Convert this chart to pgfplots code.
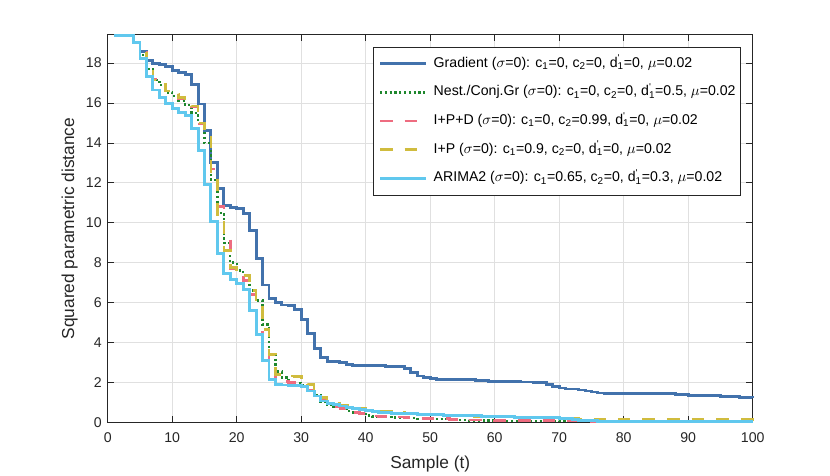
\documentclass[border=0pt]{standalone}
\usepackage{fontspec}
\setmainfont{Liberation Sans}
\usepackage{pgfplots}
\pgfplotsset{compat=1.18}
\definecolor{cgrad}{RGB}{66,114,172}
\definecolor{cnest}{RGB}{30,135,45}
\definecolor{cipd}{RGB}{238,108,128}
\definecolor{cip}{RGB}{208,188,62}
\definecolor{carima}{RGB}{96,200,238}
\definecolor{cax}{RGB}{38,38,38}
\newcommand{\sbs}[1]{\textsubscript{#1}}
\newcommand{\dprime}{d\rlap{\textsuperscript{\textquotesingle}}\textsubscript{1}}
\begin{document}
\begin{tikzpicture}[x=1pt,y=1pt]
\useasboundingbox (0,0) rectangle (622.5,356.25);
\begin{axis}[
  at={(80.8pt,39.5pt)}, anchor=south west,
  scale only axis, width=483.75pt, height=290.7pt,
  xmin=0, xmax=100, ymin=0, ymax=19.42,
  xtick={0,10,...,100}, ytick={0,2,...,18},
  grid=major, major grid style={draw=black!12, line width=0.5pt},
  axis line style={draw=cax, line width=0.6pt},
  tick style={draw=cax, line width=0.6pt},
  major tick length=5pt,
  tick align=inside,
  ticklabel style={font=\fontsize{10.6}{12}\selectfont, text=cax},
  xticklabel style={yshift=-4pt},
  yticklabel style={xshift=-1pt},
  /pgf/number format/assume math mode=true,
  xlabel={Sample (t)}, ylabel={Squared parametric distance},
  label style={font=\fontsize{13}{15}\selectfont, text=cax},
  xlabel style={at={(axis description cs:0.5,-0.118)}, anchor=base},
  ylabel style={at={(axis description cs:-0.059,0.5)}, anchor=center},
  legend style={at={(0.411,0.969)}, anchor=north west, draw=cax, line width=0.6pt, fill=white,
    font=\fontsize{10.6}{12}\selectfont, text=black,
    nodes={inner sep=0pt, text height=8pt, text depth=3pt},
    row sep=10.5pt, column sep=5pt, inner xsep=4pt, inner ysep=7pt},
  legend cell align=left,
  legend image code/.code={\draw[#1] (0cm,0cm) -- (1.2cm,0cm);},
  clip=false,
  const plot,
]
\addplot[cgrad, line width=2.2pt] coordinates {
(1,19.4) (4,19.05) (5,18.6) (6,18.15) (7,18.0) (8,17.93) (9,17.85) (10,17.65) (11,17.55) (12,17.45)
(13,16.92) (14,15.95) (15,14.6) (16,13.03) (17,11.7) (18,10.87) (19,10.75) (20,10.72) (21,10.47) (22,9.6)
(23,8.2) (24,6.88) (25,6.2) (26,6.0) (27,5.88) (28,5.85) (29,5.65) (30,5.15) (31,4.47) (32,3.72)
(33,3.23) (34,3.07) (35,3.03) (36,2.98) (37,2.9) (38,2.87) (39,2.85) (40,2.84) (43,2.82) (45,2.8)
(46,2.7) (47,2.48) (48,2.32) (49,2.23) (50,2.18) (51,2.15) (55,2.13) (57,2.1) (59,2.03) (64,2.02)
(66,2.0) (68,1.9) (69,1.8) (70,1.72) (71,1.67) (73,1.62) (74,1.57) (75,1.52) (76,1.47) (77,1.45)
(84,1.43) (88,1.4) (90,1.36) (93,1.33) (95,1.28) (98,1.25) (100,1.22)};
\addlegendentry{Gradient ($\sigma$=0): c\sbs{1}=0, c\sbs{2}=0, \dprime=0, $\mu$=0.02}
\addplot[cnest, line width=1.8pt, dash pattern=on 1.6pt off 2pt] coordinates {
(1,19.4) (4,19.03) (5,18.4) (6,17.7) (7,17.15) (8,16.9) (9,16.53) (10,16.35) (11,16.1) (12,15.9)
(13,15.5) (14,14.95) (15,14.0) (16,12.15) (17,10.5) (18,9.0) (19,8.0) (20,7.6) (21,7.1) (22,6.6)
(23,6.1) (24,4.9) (25,3.4) (26,2.55) (27,2.25) (28,2.03) (29,1.97) (30,1.88) (31,1.6) (32,1.35)
(33,1.05) (34,0.88) (35,0.78) (36,0.68) (37,0.58) (38,0.5) (39,0.42) (40,0.35) (41,0.3) (42,0.27)
(44,0.24) (46,0.21) (48,0.18) (50,0.16) (53,0.13) (56,0.1) (60,0.08) (65,0.07) (70,0.06) (75,0.04)
(80,0.02) (100,0.02)};
\addlegendentry{Nest./Conj.Gr ($\sigma$=0): c\sbs{1}=0, c\sbs{2}=0, \dprime=0.5, $\mu$=0.02}
\addplot[cipd, line width=2pt, dash pattern=on 9.5pt off 9pt] coordinates {
(1,19.4) (4,19.03) (5,18.53) (6,17.78) (7,17.2) (8,16.95) (9,16.6) (10,16.4) (11,16.2) (12,15.95)
(13,15.8) (14,14.95) (15,14.37) (16,12.7) (17,10.8) (18,9.5) (19,7.7) (20,7.28) (21,7.1) (22,6.4)
(23,4.9) (24,3.6) (25,2.82) (26,2.15) (27,2.05) (28,1.98) (29,1.92) (30,1.85) (31,1.6) (32,1.35)
(33,1.1) (34,0.9) (35,0.8) (36,0.7) (37,0.6) (38,0.5) (39,0.43) (40,0.36) (41,0.32) (42,0.29)
(44,0.26) (46,0.23) (48,0.2) (50,0.18) (53,0.15) (56,0.12) (60,0.1) (65,0.08) (70,0.07) (75,0.05)
(80,0.03) (100,0.02)};
\addlegendentry{I+P+D ($\sigma$=0): c\sbs{1}=0, c\sbs{2}=0.99, \dprime=0, $\mu$=0.02}
\addplot[cip, line width=2pt, dash pattern=on 9.5pt off 9pt] coordinates {
(1,19.4) (4,19.03) (5,18.55) (6,17.8) (7,17.15) (8,16.95) (9,16.6) (10,16.45) (11,16.28) (12,15.95)
(13,15.85) (14,15.0) (15,14.3) (16,12.3) (17,10.4) (18,8.6) (19,7.75) (20,7.5) (21,7.35) (22,6.6)
(23,5.9) (24,4.65) (25,3.4) (26,2.4) (27,2.36) (28,2.33) (29,2.3) (30,1.98) (31,1.88) (32,1.6)
(33,1.25) (34,1.0) (35,0.93) (36,0.85) (38,0.72) (40,0.6) (42,0.53) (44,0.5) (46,0.46) (48,0.42)
(50,0.38) (53,0.34) (56,0.3) (60,0.26) (65,0.22) (70,0.19) (73,0.16) (76,0.14) (85,0.13) (100,0.12)};
\addlegendentry{I+P ($\sigma$=0): c\sbs{1}=0.9, c\sbs{2}=0, \dprime=0, $\mu$=0.02}
\addplot[carima, line width=2.2pt] coordinates {
(1,19.4) (4,19.05) (5,18.23) (6,17.35) (7,16.65) (8,16.27) (9,15.98) (10,15.73) (11,15.53) (12,15.37)
(13,14.72) (14,13.6) (15,11.93) (16,10.07) (17,8.48) (18,7.48) (19,7.15) (20,6.97) (21,6.65) (22,5.6)
(23,4.42) (24,3.1) (25,2.13) (26,1.9) (27,1.87) (28,1.85) (29,1.83) (30,1.8) (31,1.57) (32,1.32)
(33,1.07) (34,0.95) (35,0.88) (36,0.82) (37,0.75) (38,0.68) (39,0.62) (40,0.57) (41,0.53) (42,0.5)
(43,0.47) (44,0.45) (46,0.43) (48,0.41) (50,0.38) (52,0.36) (54,0.34) (56,0.32) (58,0.3) (60,0.28)
(63,0.26) (66,0.24) (68,0.22) (70,0.2) (71,0.17) (72,0.14) (73,0.1) (74,0.07) (76,0.06) (80,0.05)
(100,0.05)};
\addlegendentry{ARIMA2 ($\sigma$=0): c\sbs{1}=0.65, c\sbs{2}=0, \dprime=0.3, $\mu$=0.02}
\end{axis}
\end{tikzpicture}
\end{document}
